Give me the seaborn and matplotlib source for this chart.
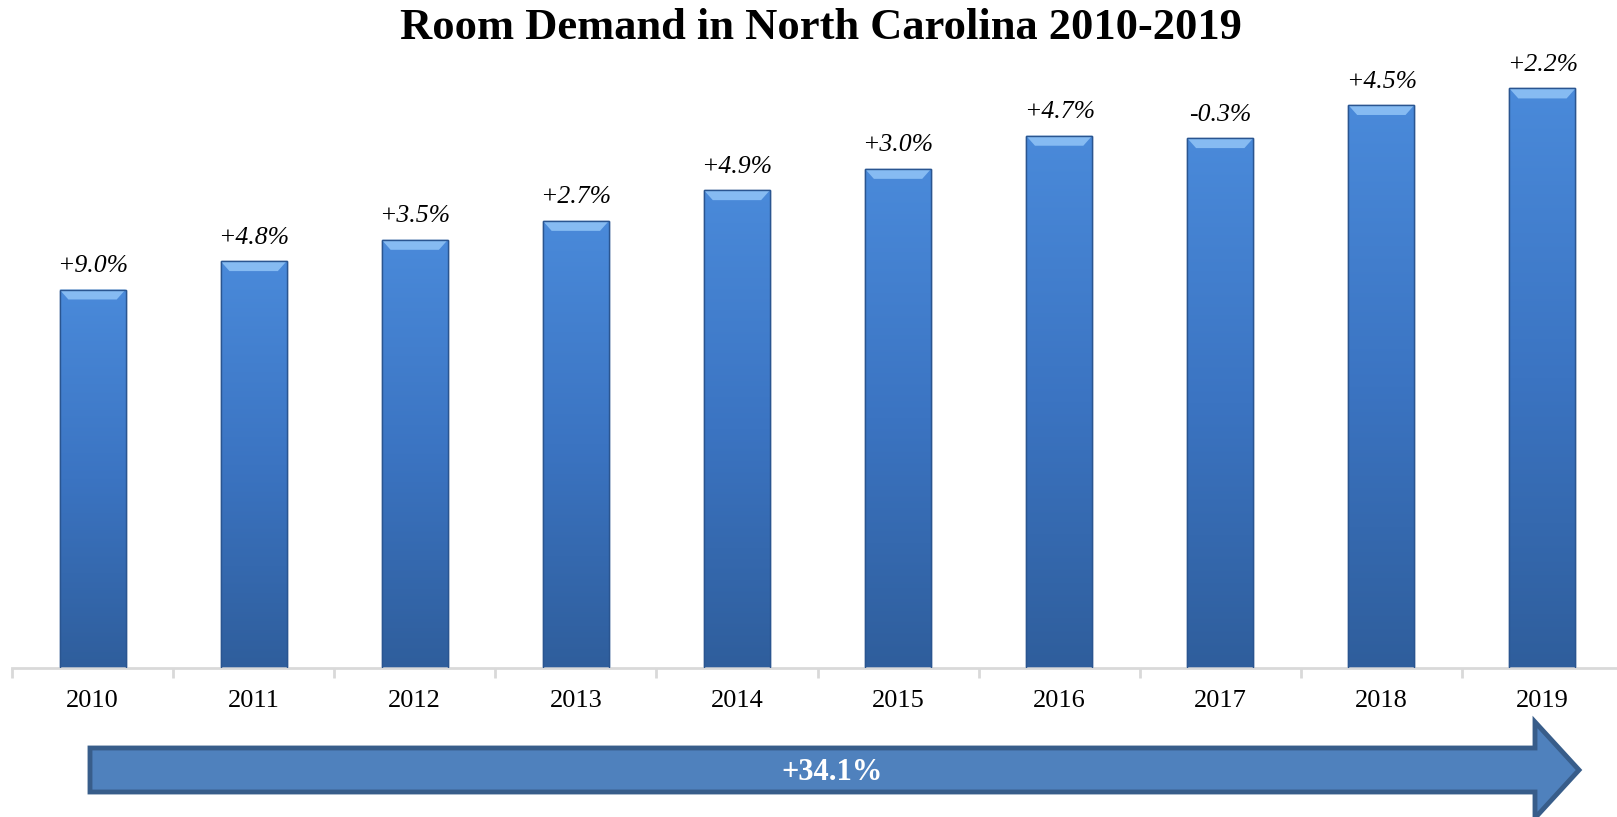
import matplotlib
matplotlib.use("Agg")
import matplotlib.pyplot as plt
import numpy as np
import pandas as pd
import seaborn as sns
from matplotlib.patches import Polygon
from matplotlib.colors import LinearSegmentedColormap

sns.set_theme(style="white")
plt.rcParams['font.family'] = ['Liberation Serif', 'DejaVu Serif']
plt.rcParams['text.color'] = 'black'

# room demand (millions of room nights)
years = ['2010', '2011', '2012', '2013', '2014', '2015', '2016', '2017', '2018', '2019']
demand = [25.0, 26.2, 27.1, 27.9, 29.2, 30.1, 31.5, 31.4, 32.8, 33.5]
yoy_labels = ['+9.0%', '+4.8%', '+3.5%', '+2.7%', '+4.9%', '+3.0%', '+4.7%', '-0.3%', '+4.5%', '+2.2%']
total_label = '+34.1%'

df = pd.DataFrame({'Year': years, 'Demand': demand})

W, H = 1617, 817
fig = plt.figure(figsize=(W / 100, H / 100), dpi=100)
ax = fig.add_axes([12 / W, (H - 668) / H, 1611 / W, 628 / H])

sns.barplot(data=df, x='Year', y='Demand', color='#3D78C8', width=0.41,
            saturation=1, ax=ax, edgecolor='#2A5590', linewidth=1)
ax.set_ylim(9.0, 35.55)
ax.set_xlim(-0.5, 9.5)

# gradient fill + top bevel on each bar
cmap = LinearSegmentedColormap.from_list('bar', ['#2F5E9C', '#3B74C2', '#4A8ADA'])
grad = np.linspace(0, 1, 256).reshape(-1, 1)
for p in ax.patches:
    x0, w = p.get_x(), p.get_width()
    y0, top = ax.get_ylim()[0], p.get_y() + p.get_height()
    im = ax.imshow(grad, cmap=cmap, aspect='auto', origin='lower',
                   extent=[x0, x0 + w, y0, top], zorder=2)
    im.set_clip_path(p)
    dx, dy = 0.055, 0.42
    ax.add_patch(Polygon([(x0, top), (x0 + w, top), (x0 + w - dx, top - dy), (x0 + dx, top - dy)],
                         closed=True, facecolor='#86BBF2', edgecolor='none', zorder=3))
    ax.add_patch(Polygon([(x0, top), (x0 + w, top), (x0 + w, y0), (x0, y0)], closed=True,
                         fill=False, edgecolor='#2A5590', linewidth=1, zorder=4))

for i, (v, lab) in enumerate(zip(demand, yoy_labels)):
    ax.annotate(lab, (i, v), xytext=(0, 9), textcoords='offset points',
                ha='center', va='bottom', fontsize=18.5, style='italic', color='black')

# axis styling
for s in ['top', 'right', 'left']:
    ax.spines[s].set_visible(False)
ax.spines['bottom'].set_color('#D9D9D9')
ax.spines['bottom'].set_linewidth(2)
ax.set_yticks([])
ax.set_xlabel('')
ax.set_ylabel('')
ax.set_xticks(range(len(years)))
ax.set_xticklabels(years, fontsize=19)
ax.set_xticks(np.arange(-0.5, 10, 1), minor=True)
ax.tick_params(axis='x', which='major', length=0, pad=16, colors='black')
ax.tick_params(axis='x', which='minor', length=7, width=2, color='#D9D9D9', bottom=True)

fig.text(821 / W, 1 - 39 / H, 'Room Demand in North Carolina 2010-2019',
         ha='center', va='baseline', fontsize=32, fontweight='bold', color='black')

# growth arrow under the axis
pts = [(90, 748), (1535, 748), (1535, 722), (1579, 770), (1535, 818), (1535, 792), (90, 792)]
arrow = Polygon([(x / W, 1 - y / H) for x, y in pts], closed=True, transform=fig.transFigure,
                facecolor='#4F81BD', edgecolor='#385D8A', linewidth=3.5)
fig.patches.append(arrow)
fig.text(832 / W, 1 - 773 / H, total_label, ha='center', va='center',
         fontsize=22, fontweight='bold', color='white')

fig.savefig('out.png', dpi=100)
